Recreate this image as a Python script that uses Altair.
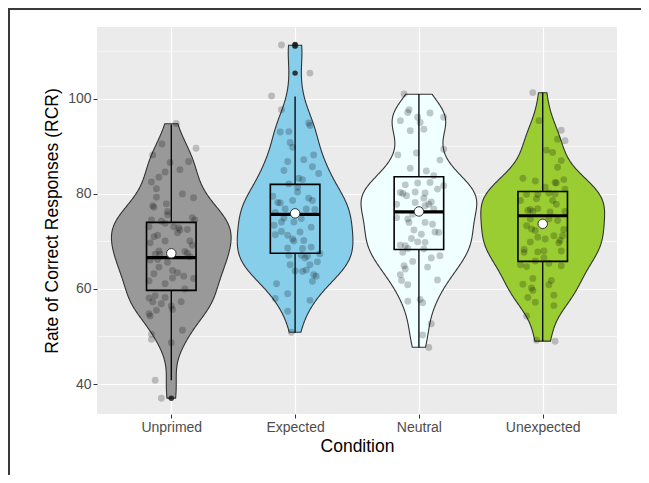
import json
import altair as alt
import pandas as pd

categories = ["Unprimed", "Expected", "Neutral", "Unexpected"]
fill_colors = ["#999999", "#87CEEB", "#F0FFFF", "#9ACD32"]

# jittered raw observations (value, horizontal jitter in category units)
unprimed_values = [94.8, 90.5, 89.6, 88.2, 86.8, 86.6, 85.1, 84.6, 81.1, 79.2, 79.3, 77.9, 77.5, 77.2,
                   76.3, 75.6, 75.0, 74.5, 74.5, 74.3, 73.8, 73.1, 72.9, 72.5, 73.1, 72.4, 71.8, 71.3,
                   71.0, 70.1, 70.1, 69.7, 69.2, 67.9, 67.3, 67.3, 66.2, 66.1, 65.6, 64.6, 63.4, 62.7,
                   62.3, 62.2, 61.7, 60.0, 58.6, 58.2, 58.1, 57.3, 57.3, 56.9, 56.4, 55.7, 55.5, 54.8,
                   54.3, 51.3, 50.5, 49.4, 48.7, 40.8, 37.0, 68.0, 67.5, 63.9, 66.8, 63.2, 61.1,
                   82.5, 80.0, 83.5]
unprimed_jitter = [0.04, -0.075, 0.20, -0.15, 0.14, -0.01, 0.07, -0.05, -0.12, 0.18, -0.12, -0.04, -0.15, -0.14,
                   -0.03, -0.03, 0.17, 0.19, -0.16, -0.08, -0.05, 0.02, 0.06, 0.13, -0.18, 0.07, 0.05, -0.11,
                   -0.14, 0.15, -0.05, -0.17, 0.17, 0.11, -0.13, -0.09, -0.11, -0.17, -0.03, -0.10, 0.05, 0.10,
                   0.01, 0.18, -0.18, 0.11, -0.13, -0.05, -0.18, -0.15, 0.08, -0.08, 0.0, 0.01, -0.12, -0.18,
                   -0.17, 0.09, -0.16, -0.16, 0.0, -0.13, -0.08, -0.10, 0.13, 0.01, 0.15, -0.14, -0.05,
                   -0.16, 0.09, -0.10]

expected_values = [111.3, 111.2, 105.4, 100.6, 97.7, 94.9, 94.4, 93.0, 93.1, 90.8, 89.8, 88.2, 86.8, 87.2,
                   85.7, 84.9, 84.3, 83.3, 83.0, 82.1, 81.4, 79.5, 79.1, 78.6, 78.2, 78.1, 78.6, 76.8,
                   76.8, 76.7, 76.1, 74.9, 74.8, 74.1, 73.4, 72.1, 72.0, 71.4, 70.5, 70.1, 70.2, 68.8,
                   68.6, 68.5, 67.4, 67.1, 66.9, 66.5, 65.1, 65.7, 65.1, 64.0, 63.8, 63.7, 63.0, 62.7,
                   61.6, 61.1, 59.0, 58.0, 57.6, 55.3, 50.9, 80.4, 74.1, 73.0, 71.3, 67.1]
expected_jitter = [-0.11, 0.0, 0.12, -0.19, -0.11, 0.11, 0.12, -0.12, -0.05, -0.04, -0.02, 0.15, -0.06, 0.07,
                   0.14, -0.09, 0.19, 0.03, 0.06, -0.05, 0.02, -0.18, 0.11, 0.14, -0.14, -0.12, -0.02, -0.08,
                   0.09, 0.16, -0.16, -0.09, 0.05, -0.01, -0.17, -0.11, 0.04, -0.16, -0.02, -0.01, 0.07, 0.13,
                   -0.06, 0.06, 0.20, -0.05, 0.10, 0.08, 0.12, 0.18, -0.04, 0.09, 0.0, 0.06, 0.15, 0.17,
                   0.14, -0.15, -0.06, -0.16, 0.12, -0.06, -0.03, 0.02, -0.11, 0.13, -0.06, 0.05]

neutral_values = [101.0, 97.7, 97.1, 97.0, 96.1, 95.4, 96.1, 95.0, 93.6, 93.3, 89.4, 88.2, 88.6, 87.1,
                  85.4, 84.8, 83.8, 82.4, 81.9, 82.3, 81.7, 80.3, 80.1, 80.4, 81.0, 79.1, 79.6, 78.3,
                  77.8, 77.8, 77.5, 76.8, 75.7, 75.0, 74.7, 74.0, 73.6, 71.9, 71.5, 72.4, 70.6, 69.9,
                  69.2, 69.1, 68.5, 68.4, 66.5, 65.8, 67.0, 64.9, 64.2, 64.6, 63.0, 61.8, 61.9, 60.9,
                  57.4, 57.8, 57.1, 52.7, 50.3, 47.7, 80.2, 74.0, 78.2, 72.0, 69.8, 67.7]
neutral_jitter = [-0.12, -0.08, -0.09, 0.09, 0.20, -0.15, -0.01, 0.01, 0.04, -0.07, 0.20, -0.17, -0.02, 0.17,
                  -0.07, 0.06, 0.12, 0.09, -0.11, -0.01, 0.20, -0.15, -0.13, -0.03, 0.15, 0.04, -0.10, 0.10,
                  0.08, -0.18, 0.05, 0.12, -0.05, -0.18, -0.09, 0.05, 0.11, 0.16, 0.02, -0.04, -0.06, -0.01,
                  -0.15, -0.11, -0.09, 0.04, 0.10, -0.05, 0.17, -0.12, -0.11, 0.07, -0.15, -0.14, 0.15, -0.09,
                  -0.09, 0.01, 0.03, 0.10, 0.03, 0.08, 0.05, -0.08, -0.03, 0.13, 0.05, -0.13]

unexpected_values = [101.3, 95.4, 93.4, 91.5, 91.2, 89.2, 88.7, 87.0, 85.6, 83.3, 82.7, 82.4, 82.3, 83.0,
                     81.4, 81.0, 79.9, 79.9, 80.2, 80.0, 78.6, 78.6, 77.8, 76.7, 76.3, 76.5, 76.9, 76.3,
                     74.7, 74.7, 74.4, 72.6, 72.3, 72.5, 70.9, 70.5, 70.2, 71.2, 69.7, 68.3, 67.7, 67.8,
                     68.0, 68.0, 65.9, 65.1, 64.7, 65.4, 64.9, 62.2, 61.8, 61.0, 60.9, 60.2, 59.7, 58.7,
                     58.2, 57.2, 56.5, 54.3, 49.2, 49.0, 79.0, 76.2, 73.3, 71.2, 66.5, 69.9]
unexpected_jitter = [-0.08, -0.03, 0.15, 0.12, 0.18, 0.03, 0.08, 0.15, 0.12, -0.16, -0.06, 0.10, 0.11, 0.17,
                     0.02, 0.18, -0.13, -0.04, 0.05, 0.10, -0.18, 0.08, 0.11, -0.10, -0.08, -0.12, -0.04, 0.18,
                     -0.10, 0.05, 0.12, -0.09, -0.06, 0.17, -0.04, 0.02, 0.14, 0.16, 0.13, -0.15, -0.15, -0.04,
                     0.01, 0.15, -0.06, -0.18, -0.13, 0.05, 0.15, -0.08, 0.07, -0.16, 0.05, -0.09, -0.08, 0.09,
                     -0.12, -0.06, 0.09, -0.13, -0.05, 0.10, -0.05, 0.06, -0.13, 0.09, 0.01, -0.10]

# box-plot summary per condition
whisker_low = [40.8, 50.8, 47.7, 49.0]
q1 = [59.7, 67.5, 68.3, 65.8]
median = [66.6, 75.7, 76.2, 75.4]
q3 = [74.0, 82.0, 83.6, 80.5]
whisker_high = [94.6, 100.5, 101.0, 101.3]
means = [67.5, 75.9, 76.3, 73.7]

outlier_condition = ["Unprimed", "Expected", "Expected", "Expected"]
outlier_values = [37.0, 111.4, 111.1, 105.4]

y_ticks = [40, 60, 80, 100]
y_minor = [50, 70, 90, 110]

BOX_W = 0.4
VIOLIN_W = 1.0

all_values = [unprimed_values, expected_values, neutral_values, unexpected_values]
all_jitter = [unprimed_jitter, expected_jitter, neutral_jitter, unexpected_jitter]

rows = []
for i, cat in enumerate(categories):
    for v, j in zip(all_values[i], all_jitter[i]):
        rows.append({"condition": cat, "pos": i + 1, "value": v, "xj": i + 1 + j})
points_df = pd.DataFrame(rows)

stats_df = pd.DataFrame({
    "condition": categories,
    "pos": [1, 2, 3, 4],
    "lo": whisker_low, "q1": q1, "med": median, "q3": q3, "hi": whisker_high, "mean": means,
})
stats_df["left"] = stats_df["pos"] - BOX_W / 2
stats_df["right"] = stats_df["pos"] + BOX_W / 2

out_df = pd.DataFrame({
    "condition": outlier_condition,
    "pos": [categories.index(c) + 1 for c in outlier_condition],
    "value": outlier_values,
})

minor_df = pd.DataFrame({"v": y_minor})

FONT = "Liberation Sans"
xscale = alt.Scale(domain=[0.4, 4.6], nice=False, zero=False)
yscale = alt.Scale(domain=[33.7, 115.1], nice=False, zero=False)

label_expr = json.dumps(categories) + "[datum.value - 1]"
x_axis = alt.Axis(values=[1, 2, 3, 4], labelExpr=label_expr, title="Condition", grid=True)
y_axis = alt.Axis(values=y_ticks, title="Rate of Correct Responses (RCR)", grid=True)

minor = alt.Chart(minor_df).mark_rule(color="white", strokeWidth=0.6).encode(
    y=alt.Y("v:Q", scale=yscale, axis=y_axis)
)

# violin: density over the full range, trimmed to each group's own data range
violin = alt.Chart(points_df).transform_joinaggregate(
    gmin="min(value)", gmax="max(value)", groupby=["condition"]
).transform_density(
    "value", groupby=["condition", "pos", "gmin", "gmax"], as_=["value", "density"],
    bandwidth=3.8, extent=[36.9, 111.4], steps=1500
).transform_filter(
    "datum.value >= datum.gmin && datum.value <= datum.gmax"
).transform_joinaggregate(
    maxd="max(density)"
).transform_calculate(
    left=f"datum.pos - {VIOLIN_W / 2} * datum.density / datum.maxd",
    right=f"datum.pos + {VIOLIN_W / 2} * datum.density / datum.maxd",
).mark_area(orient="horizontal", stroke="#333333", strokeWidth=1.1, opacity=1).encode(
    y=alt.Y("value:Q", scale=yscale, axis=y_axis),
    x=alt.X("left:Q", scale=xscale, axis=x_axis, stack=None),
    x2="right:Q",
    fill=alt.Fill("condition:N", scale=alt.Scale(domain=categories, range=fill_colors), legend=None),
    detail="condition:N",
)

jitter = alt.Chart(points_df).mark_circle(size=48, color="#000000", opacity=0.21).encode(
    x=alt.X("xj:Q", scale=xscale, axis=x_axis),
    y=alt.Y("value:Q", scale=yscale, axis=y_axis),
)

base = alt.Chart(stats_df)
whisk_low = base.mark_rule(color="black", strokeWidth=1.3).encode(
    x=alt.X("pos:Q", scale=xscale, axis=x_axis), y=alt.Y("lo:Q", scale=yscale, axis=y_axis), y2="q1:Q"
)
whisk_high = base.mark_rule(color="black", strokeWidth=1.3).encode(
    x=alt.X("pos:Q", scale=xscale, axis=x_axis), y=alt.Y("q3:Q", scale=yscale, axis=y_axis), y2="hi:Q"
)
box = base.mark_rect(fillOpacity=0, stroke="black", strokeWidth=1.6).encode(
    x=alt.X("left:Q", scale=xscale, axis=x_axis), x2="right:Q",
    y=alt.Y("q1:Q", scale=yscale, axis=y_axis), y2="q3:Q",
)
med = base.mark_rule(color="black", strokeWidth=3.2).encode(
    x=alt.X("left:Q", scale=xscale, axis=x_axis), x2="right:Q",
    y=alt.Y("med:Q", scale=yscale, axis=y_axis),
)
outliers = alt.Chart(out_df).mark_circle(size=30, color="#1a1a1a", opacity=0.85).encode(
    x=alt.X("pos:Q", scale=xscale, axis=x_axis),
    y=alt.Y("value:Q", scale=yscale, axis=y_axis),
)
mean_pts = base.mark_point(shape="circle", filled=True, size=90, fill="white", stroke="#333333",
                           strokeWidth=1, opacity=1).encode(
    x=alt.X("pos:Q", scale=xscale, axis=x_axis),
    y=alt.Y("mean:Q", scale=yscale, axis=y_axis),
)

# outer figure frame (left and top edges)
frame_v = alt.Chart(minor_df.head(1)).mark_rect(color="#3a3a3a").encode(
    x=alt.value(-89), x2=alt.value(-87), y=alt.value(-19), y2=alt.value(470)
)
frame_h = alt.Chart(minor_df.head(1)).mark_rect(color="#3a3a3a").encode(
    x=alt.value(-89), x2=alt.value(550), y=alt.value(-19), y2=alt.value(-17)
)

chart = alt.layer(
    minor, violin, jitter, whisk_low, whisk_high, box, med, outliers, mean_pts, frame_v, frame_h
).properties(
    width=520, height=387,
    autosize=alt.AutoSizeParams(type="none"),
    padding={"left": 89, "top": 19, "right": 24, "bottom": 61},
    background="white",
).configure_view(
    fill="#EBEBEB", stroke=None
).configure_axis(
    domain=False,
    gridColor="white", gridWidth=1.2,
    tickColor="#333333", tickSize=4, tickWidth=1,
    labelFont=FONT, labelFontSize=14, labelColor="#4D4D4D", labelPadding=2,
    titleFont=FONT, titleFontSize=17.5, titleFontWeight="normal", titleColor="black",
).configure_axisY(
    titlePadding=6
).configure_axisX(
    titlePadding=3
)

chart.save("out.html", embed_options={"renderer": "svg", "actions": False})
